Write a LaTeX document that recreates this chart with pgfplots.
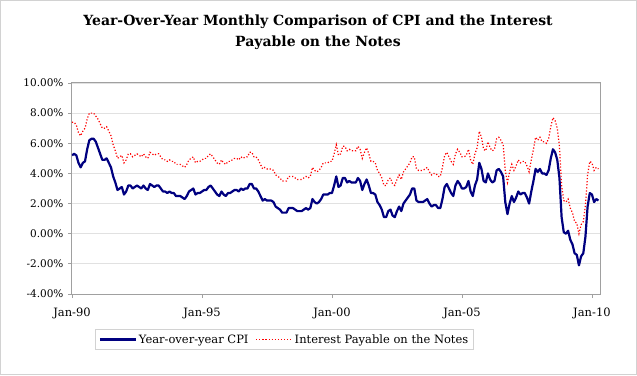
\documentclass[border=0pt]{standalone}
\usepackage{pgfplots}
\pgfplotsset{compat=1.18}
\usepackage{pgfplotstable}
\usepackage{fontspec}
\setmainfont{DejaVu Serif}
\definecolor{cpiblue}{RGB}{0,0,128}
\definecolor{intred}{RGB}{255,0,0}
\definecolor{framegray}{RGB}{160,160,160}
\definecolor{gridgray}{RGB}{225,225,225}
\definecolor{outergray}{RGB}{210,210,210}

% Year-over-year CPI, monthly Jan-1990 .. Apr-2010
\pgfplotstableread[row sep=\\]{y\\
5.2\\5.3\\5.2\\4.7\\4.4\\4.7\\4.8\\5.6\\6.2\\6.3\\6.3\\6.1\\
5.7\\5.3\\4.9\\4.9\\5.0\\4.7\\4.4\\3.8\\3.4\\2.9\\3.0\\3.1\\
2.6\\2.8\\3.2\\3.2\\3.0\\3.1\\3.2\\3.1\\3.0\\3.2\\3.0\\2.9\\
3.3\\3.2\\3.1\\3.2\\3.2\\3.0\\2.8\\2.8\\2.7\\2.8\\2.7\\2.7\\
2.5\\2.5\\2.5\\2.4\\2.3\\2.5\\2.8\\2.9\\3.0\\2.6\\2.7\\2.7\\
2.8\\2.9\\2.9\\3.1\\3.2\\3.0\\2.8\\2.6\\2.5\\2.8\\2.6\\2.5\\
2.7\\2.7\\2.8\\2.9\\2.9\\2.8\\3.0\\2.9\\3.0\\3.0\\3.3\\3.3\\
3.0\\3.0\\2.8\\2.5\\2.2\\2.3\\2.2\\2.2\\2.2\\2.1\\1.8\\1.7\\
1.6\\1.4\\1.4\\1.4\\1.7\\1.7\\1.7\\1.6\\1.5\\1.5\\1.5\\1.6\\
1.7\\1.6\\1.7\\2.3\\2.1\\2.0\\2.1\\2.3\\2.6\\2.6\\2.6\\2.7\\
2.7\\3.2\\3.8\\3.1\\3.2\\3.7\\3.7\\3.4\\3.5\\3.4\\3.4\\3.4\\
3.7\\3.5\\2.9\\3.3\\3.6\\3.2\\2.7\\2.7\\2.6\\2.1\\1.9\\1.6\\
1.1\\1.1\\1.5\\1.6\\1.2\\1.1\\1.5\\1.8\\1.5\\2.0\\2.2\\2.4\\
2.6\\3.0\\3.0\\2.2\\2.1\\2.1\\2.1\\2.2\\2.3\\2.0\\1.8\\1.9\\
1.9\\1.7\\1.7\\2.3\\3.1\\3.3\\3.0\\2.7\\2.5\\3.2\\3.5\\3.3\\
3.0\\3.0\\3.1\\3.5\\2.8\\2.5\\3.2\\3.6\\4.7\\4.3\\3.5\\3.4\\
4.0\\3.6\\3.4\\3.5\\4.2\\4.3\\4.1\\3.8\\2.1\\1.3\\2.0\\2.5\\
2.1\\2.4\\2.8\\2.6\\2.7\\2.7\\2.4\\2.0\\2.8\\3.5\\4.3\\4.1\\
4.3\\4.0\\4.0\\3.9\\4.2\\5.0\\5.6\\5.4\\4.9\\3.7\\1.1\\0.1\\
0.0\\0.2\\-0.4\\-0.7\\-1.3\\-1.4\\-2.1\\-1.5\\-1.3\\-0.2\\1.8\\2.7\\
2.6\\2.1\\2.3\\2.2\\
}\cpitable

% Interest payable on the notes, monthly Jan-1990 .. Apr-2010
\pgfplotstableread[row sep=\\]{y\\
7.4\\7.4\\7.2\\6.7\\6.5\\6.8\\7.0\\7.6\\8.0\\8.0\\8.0\\7.8\\
7.6\\7.3\\7.0\\7.0\\7.1\\6.8\\6.5\\5.9\\5.5\\5.0\\5.1\\5.2\\
4.7\\4.9\\5.3\\5.3\\5.1\\5.2\\5.3\\5.2\\5.1\\5.3\\5.1\\5.0\\
5.4\\5.3\\5.2\\5.3\\5.3\\5.1\\4.9\\4.9\\4.8\\4.9\\4.8\\4.8\\
4.6\\4.6\\4.6\\4.5\\4.4\\4.6\\4.9\\5.0\\5.1\\4.7\\4.8\\4.8\\
4.9\\5.0\\5.0\\5.2\\5.3\\5.1\\4.9\\4.7\\4.6\\4.9\\4.7\\4.6\\
4.8\\4.8\\4.9\\5.0\\5.0\\4.9\\5.1\\5.0\\5.1\\5.1\\5.4\\5.4\\
5.1\\5.1\\4.9\\4.6\\4.3\\4.4\\4.3\\4.3\\4.3\\4.2\\3.9\\3.8\\
3.7\\3.5\\3.5\\3.5\\3.8\\3.8\\3.8\\3.7\\3.6\\3.6\\3.6\\3.7\\
3.8\\3.7\\3.8\\4.4\\4.2\\4.1\\4.2\\4.4\\4.7\\4.7\\4.7\\4.8\\
4.8\\5.3\\5.9\\5.2\\5.3\\5.8\\5.8\\5.5\\5.6\\5.5\\5.5\\5.5\\
5.8\\5.6\\5.0\\5.4\\5.7\\5.3\\4.8\\4.8\\4.7\\4.2\\4.0\\3.7\\
3.2\\3.2\\3.6\\3.7\\3.3\\3.2\\3.6\\3.9\\3.6\\4.1\\4.3\\4.5\\
4.7\\5.1\\5.1\\4.3\\4.2\\4.2\\4.2\\4.3\\4.4\\4.1\\3.9\\4.0\\
4.0\\3.8\\3.8\\4.4\\5.2\\5.4\\5.1\\4.8\\4.6\\5.3\\5.6\\5.4\\
5.1\\5.1\\5.2\\5.6\\4.9\\4.6\\5.3\\5.7\\6.8\\6.4\\5.6\\5.5\\
6.1\\5.7\\5.5\\5.6\\6.3\\6.4\\6.2\\5.9\\4.2\\3.4\\4.1\\4.6\\
4.2\\4.5\\4.9\\4.7\\4.8\\4.8\\4.5\\4.1\\4.9\\5.6\\6.4\\6.2\\
6.4\\6.1\\6.1\\6.0\\6.3\\7.1\\7.7\\7.5\\7.0\\5.8\\3.2\\2.2\\
2.1\\2.3\\1.7\\1.4\\0.8\\0.7\\0.0\\0.6\\0.8\\1.9\\3.9\\4.8\\
4.7\\4.2\\4.4\\4.3\\
}\inttable

\begin{document}
\begin{tikzpicture}
\begin{axis}[
  at={(0pt,0pt)}, anchor=south west,
  scale only axis,
  width=528pt, height=211pt,
  xmin=1990, xmax=2010.31,
  ymin=-4, ymax=10,
  xtick={1990,1995,2000,2005,2010},
  xticklabels={Jan-90,Jan-95,Jan-00,Jan-05,Jan-10},
  ytick={-4,-2,0,2,4,6,8,10},
  yticklabels={-4.00\%,-2.00\%,0.00\%,2.00\%,4.00\%,6.00\%,8.00\%,10.00\%},
  ymajorgrids,
  grid style={gridgray, line width=0.9pt},
  axis line style={framegray, line width=1pt},
  tick style={framegray, line width=0.8pt},
  tick align=outside,
  major tick length=4pt,
  xtick pos=bottom, ytick pos=left,
  tick label style={font=\fontsize{11.5}{13}\selectfont, text=black},
  xticklabel style={yshift=-6pt},
  yticklabel style={xshift=-1pt, font=\fontsize{10.5}{12}\selectfont},
  legend columns=2,
  legend style={at={(0.4025,-0.2156)}, anchor=center,
    draw=outergray, line width=0.8pt,
    font=\fontsize{11.5}{13}\selectfont,
    inner xsep=3pt, inner ysep=2.5pt,
    /tikz/every even column/.append style={column sep=5pt}},
  legend image code/.code={\draw[#1] (0pt,0pt) -- (36pt,0pt);},
]
\addplot[cpiblue, line width=2.2pt, line join=round] table[x expr=1990+\coordindex/12, y=y] {\cpitable};
\addlegendentry{Year-over-year CPI}
\addplot[intred, line width=1.2pt, dash pattern=on 1.2pt off 1.9pt] table[x expr=1990+\coordindex/12, y=y] {\inttable};
\addlegendentry{Interest Payable on the Notes}
\end{axis}
\node[font=\bfseries\fontsize{14}{16}\selectfont] at (246pt,272pt) {Year-Over-Year Monthly Comparison of CPI and the Interest};
\node[font=\bfseries\fontsize{14}{16}\selectfont] at (246pt,251pt) {Payable on the Notes};
\draw[outergray, line width=1.5pt] (-71.25pt,-80.25pt) rectangle (564.25pt,293.25pt);
\pgfresetboundingbox
\path[use as bounding box] (-72pt,-81pt) rectangle (565pt,294pt);
\end{tikzpicture}
\end{document}
